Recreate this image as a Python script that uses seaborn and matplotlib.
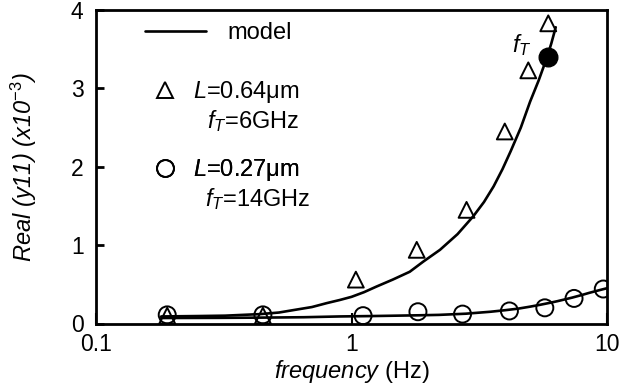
import numpy as np
import pandas as pd
import matplotlib
matplotlib.use("Agg")
import matplotlib.pyplot as plt
import seaborn as sns
from matplotlib.lines import Line2D
from matplotlib.ticker import FixedLocator, NullLocator, FixedFormatter

# ---------------- data ----------------
model_a_freq = [0.18, 0.25, 0.32, 0.44, 0.52, 0.59, 0.70, 0.80, 0.90, 1.00, 1.12, 1.25, 1.45, 1.69,
                1.91, 2.22, 2.60, 3.00, 3.30, 3.60, 3.90, 4.20, 4.60, 5.00, 5.40, 5.80, 6.05, 6.30]
model_a_val = [0.09, 0.095, 0.10, 0.12, 0.14, 0.17, 0.21, 0.26, 0.30, 0.34, 0.40, 0.47, 0.56, 0.66,
               0.79, 0.94, 1.14, 1.37, 1.55, 1.75, 1.97, 2.20, 2.50, 2.83, 3.10, 3.38, 3.57, 3.78]

model_b_freq = [0.18, 0.30, 0.44, 0.65, 0.90, 1.20, 1.50, 1.85, 2.20, 2.80, 3.50, 4.00, 4.50, 5.00,
                5.50, 6.00, 6.40, 7.30, 8.00, 8.50, 9.20, 10.0]
model_b_val = [0.07, 0.072, 0.075, 0.08, 0.09, 0.095, 0.10, 0.105, 0.11, 0.125, 0.15, 0.17, 0.19, 0.215,
               0.24, 0.265, 0.285, 0.33, 0.365, 0.39, 0.42, 0.45]

tri_freq = [0.19, 0.45, 1.04, 1.80, 2.82, 3.98, 4.92, 5.89]
tri_val = [0.10, 0.10, 0.56, 0.94, 1.45, 2.45, 3.23, 3.83]

circ_freq = [0.19, 0.45, 1.11, 1.82, 2.72, 4.15, 5.71, 7.43, 9.67]
circ_val = [0.11, 0.11, 0.10, 0.15, 0.12, 0.16, 0.20, 0.32, 0.44]

ft_freq = [5.89]
ft_val = [3.40]

x_ticks = [0.1, 1, 10]
x_ticklabels = ["0.1", "1", "10"]
y_ticks = [0, 1, 2, 3, 4]
y_ticklabels = ["0", "1", "2", "3", "4"]

# ---------------- style ----------------
sns.set_theme(style="ticks")
plt.rcParams["font.family"] = ["Liberation Sans", "DejaVu Sans"]
plt.rcParams["mathtext.fontset"] = "custom"
plt.rcParams["mathtext.rm"] = "Liberation Sans"
plt.rcParams["mathtext.it"] = "Liberation Sans:italic"
plt.rcParams["mathtext.bf"] = "Liberation Sans:bold"
plt.rcParams["mathtext.default"] = "it"
plt.rcParams["text.color"] = "black"
plt.rcParams["axes.labelcolor"] = "black"
plt.rcParams["legend.labelcolor"] = "black"

FS = 17

fig = plt.figure(figsize=(6.33, 3.89), dpi=100)
ax = fig.add_axes([96 / 633, (389 - 323.5) / 389, 511 / 633, 313.5 / 389])

df_a = pd.DataFrame({"f": model_a_freq, "v": model_a_val})
df_b = pd.DataFrame({"f": model_b_freq, "v": model_b_val})
df_t = pd.DataFrame({"f": tri_freq, "v": tri_val})
df_c = pd.DataFrame({"f": circ_freq, "v": circ_val})
df_ft = pd.DataFrame({"f": ft_freq, "v": ft_val})

sns.lineplot(data=df_a, x="f", y="v", ax=ax, color="black", linewidth=1.9, sort=False, zorder=3)
sns.lineplot(data=df_b, x="f", y="v", ax=ax, color="black", linewidth=1.9, sort=False, zorder=3)
sns.scatterplot(data=df_t, x="f", y="v", ax=ax, marker="^", s=130, color="black",
                facecolor="none", edgecolor="black", linewidth=1.4, zorder=4)
sns.scatterplot(data=df_c, x="f", y="v", ax=ax, marker="o", s=150, color="black",
                facecolor="none", edgecolor="black", linewidth=1.4, zorder=4)
sns.scatterplot(data=df_ft, x="f", y="v", ax=ax, marker="o", s=180, color="black",
                edgecolor="black", linewidth=1.0, zorder=5)

ax.set_xscale("log")
ax.set_xlim(0.1, 10)
ax.set_ylim(0, 4)
ax.xaxis.set_major_locator(FixedLocator(x_ticks))
ax.xaxis.set_major_formatter(FixedFormatter(x_ticklabels))
ax.xaxis.set_minor_locator(NullLocator())
ax.yaxis.set_major_locator(FixedLocator(y_ticks))
ax.yaxis.set_major_formatter(FixedFormatter(y_ticklabels))
ax.yaxis.set_minor_locator(NullLocator())

for sp in ax.spines.values():
    sp.set_linewidth(2.0)
    sp.set_color("black")
    sp.set_visible(True)

ax.tick_params(axis="x", direction="in", length=8, width=1.5, pad=7, labelsize=FS - 0.5,
               colors="black", labelcolor="black")
ax.tick_params(axis="y", direction="in", length=6, width=2.0, pad=9, labelsize=FS - 0.5,
               colors="black", labelcolor="black")

ax.set_xlabel(r"$frequency$ (Hz)", fontsize=FS, color="black")
ax.set_ylabel(r"Real (y11) (x10$^{-3}$)", fontsize=FS, fontstyle="italic", color="black")
ax.xaxis.set_label_coords(0.5, -0.11)
ax.yaxis.set_label_coords(-0.112, 0.5)

# f_T annotation
ax.text(4.64, 3.55, r"$f_T$", fontsize=FS, ha="center", va="center", color="black")

# ---------------- legend ----------------
def ax_x(px):
    return (px - 96) / 511

def ax_y(py):
    return (323.5 - py) / 313.5

h_model = Line2D([], [], color="black", linewidth=1.9)
leg1 = ax.legend([h_model], ["model"], loc="center left", bbox_to_anchor=(ax_x(145), ax_y(33)),
                 frameon=False, fontsize=FS, handlelength=2.6, handletextpad=0.9,
                 borderpad=0, borderaxespad=0, labelcolor="black")
ax.add_artist(leg1)

h_tri = Line2D([], [], linestyle="none", marker="^", markersize=11.4, markerfacecolor="none",
               markeredgecolor="black", markeredgewidth=1.4)
leg2 = ax.legend([h_tri], [r"$L$=0.64μm"], loc="center left", bbox_to_anchor=(ax_x(153), ax_y(92)),
                 frameon=False, fontsize=FS, handlelength=1.0, handletextpad=0.7,
                 borderpad=0, borderaxespad=0, labelcolor="black")
ax.add_artist(leg2)

h_circ = Line2D([], [], linestyle="none", marker="o", markersize=12.2, markerfacecolor="none",
                markeredgecolor="black", markeredgewidth=1.4)
leg3 = ax.legend([h_circ], [r"$L$=0.27μm"], loc="center left", bbox_to_anchor=(ax_x(153), ax_y(170)),
                 frameon=False, fontsize=FS, handlelength=1.0, handletextpad=0.7,
                 borderpad=0, borderaxespad=0, labelcolor="black")
ax.add_artist(leg3)

ax.text(ax_x(253), ax_y(121), r"$f_T$=6GHz", transform=ax.transAxes, fontsize=FS,
        ha="center", va="center", color="black")
ax.text(ax_x(258), ax_y(199), r"$f_T$=14GHz", transform=ax.transAxes, fontsize=FS,
        ha="center", va="center", color="black")

fig.savefig("out.png", dpi=100, facecolor="white")
